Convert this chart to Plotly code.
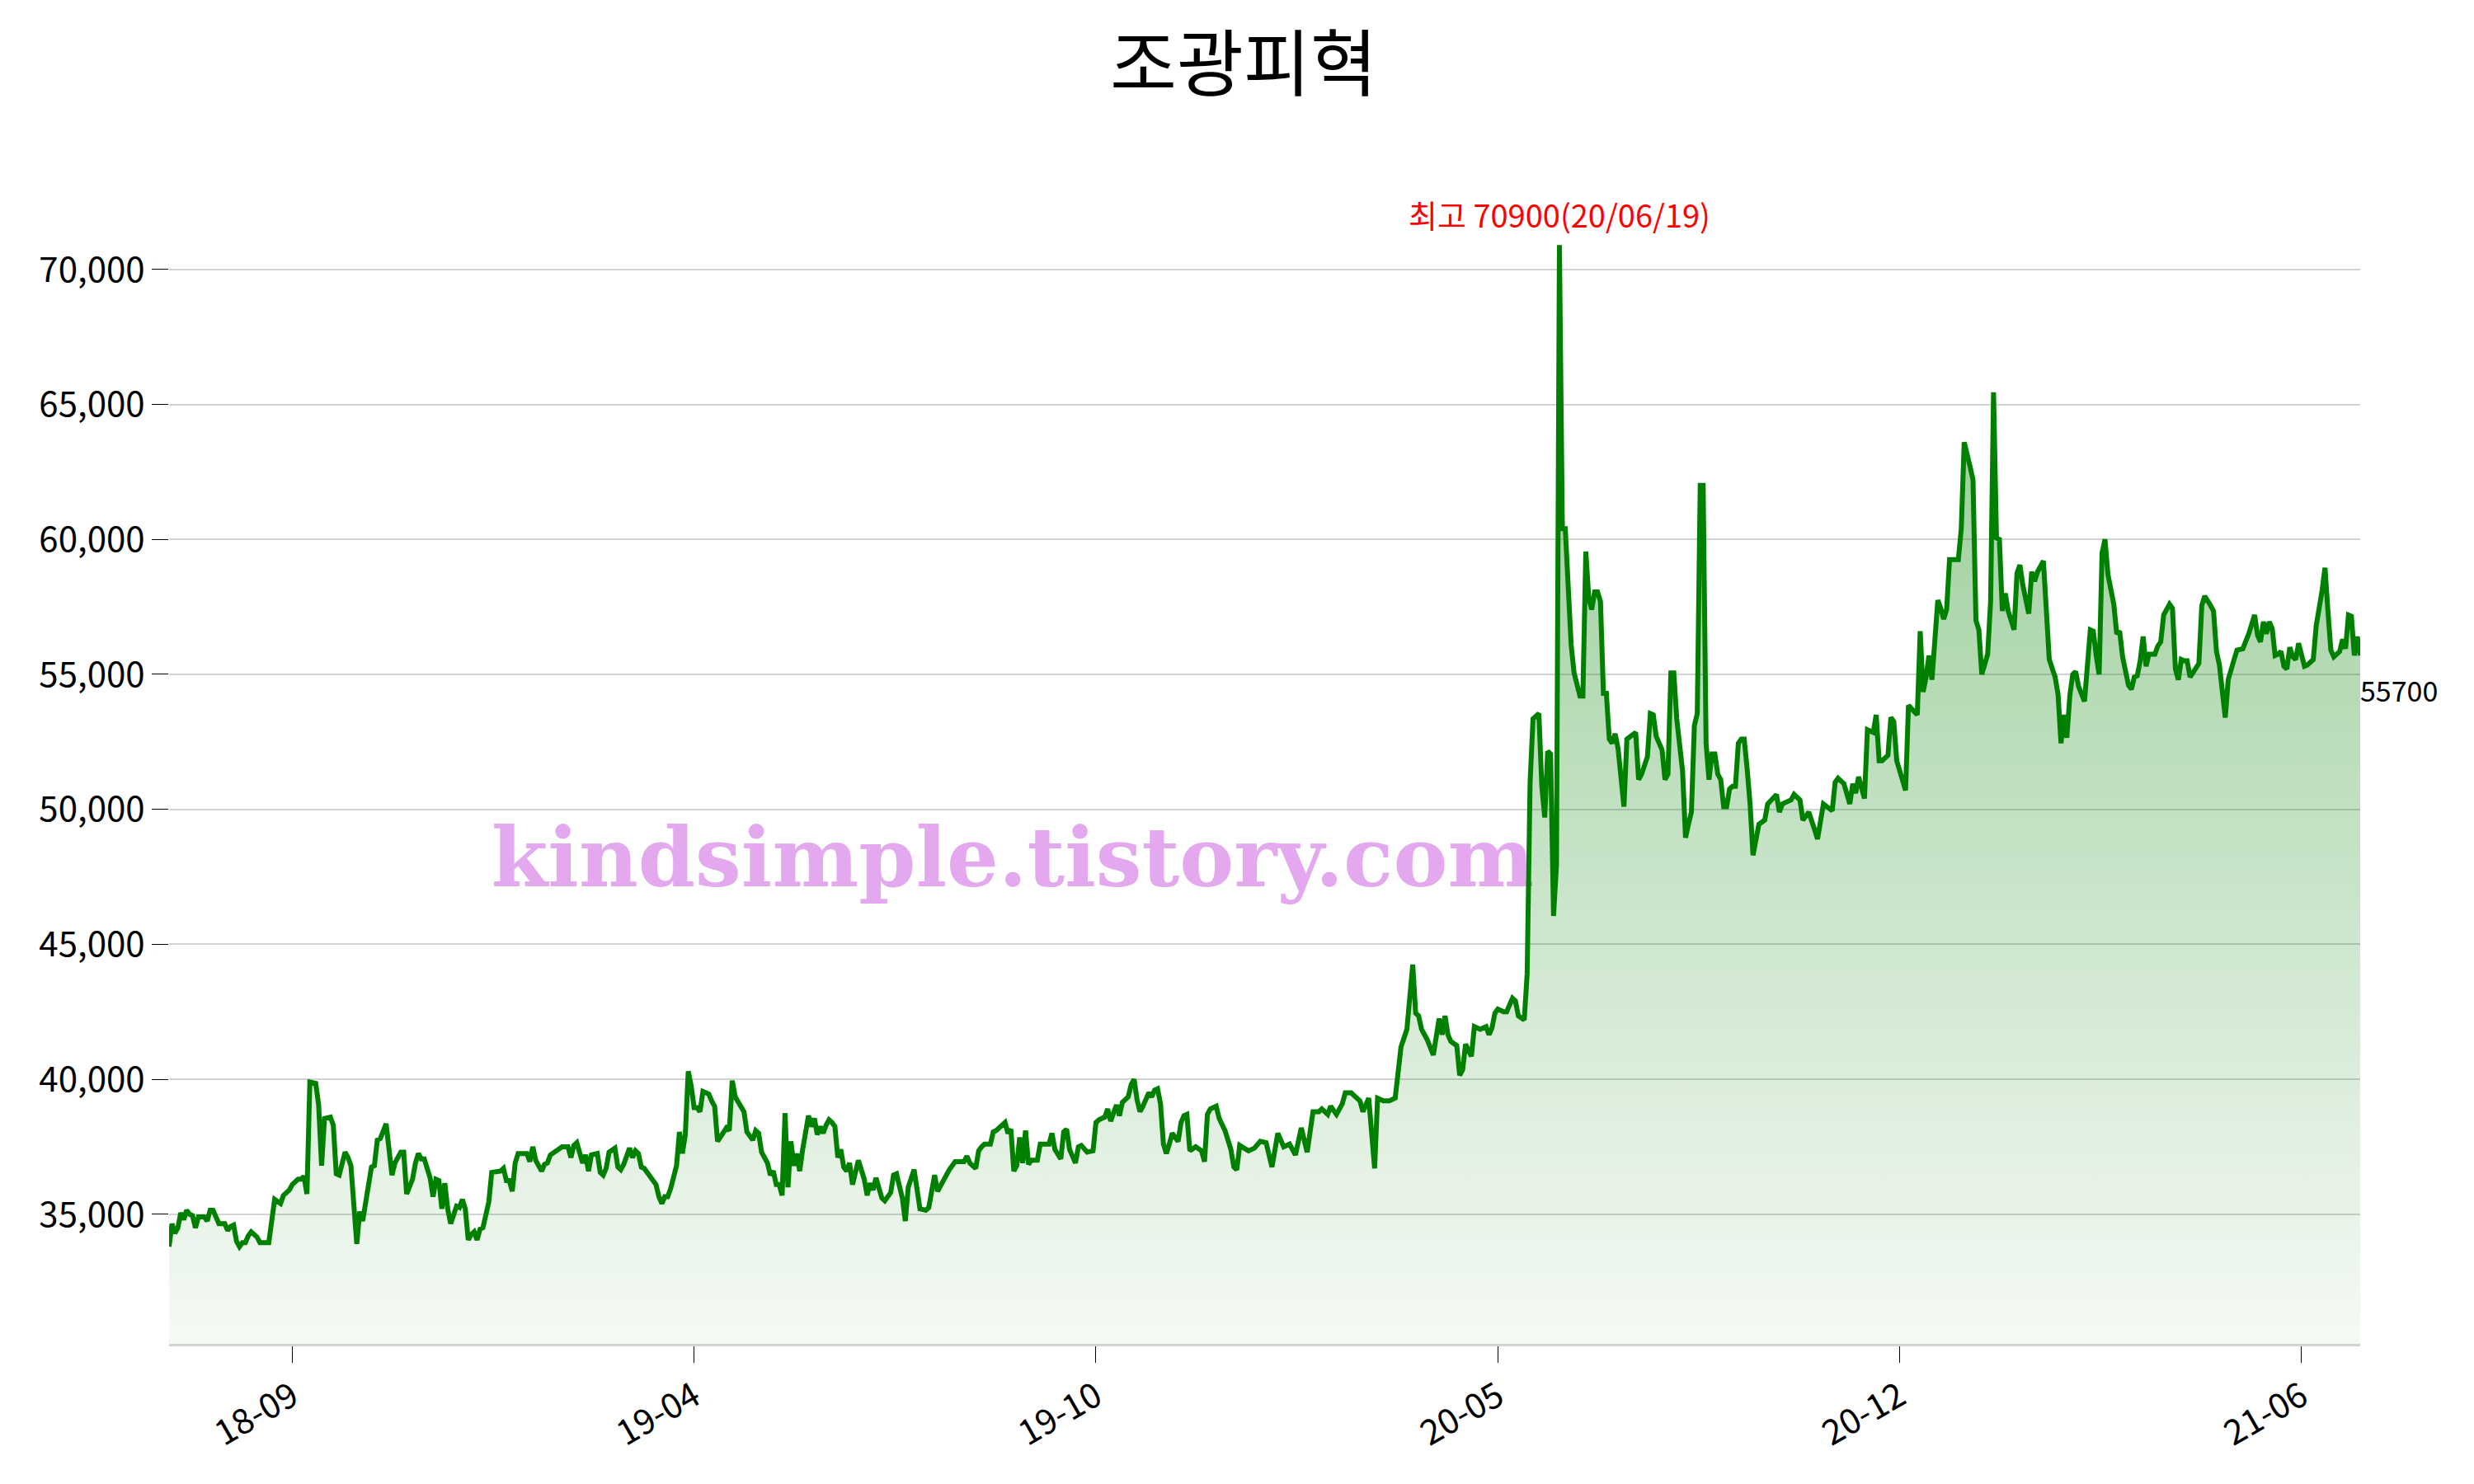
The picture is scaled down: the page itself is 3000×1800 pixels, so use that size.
import plotly.graph_objects as go

title_text = "조광피혁"
tick_days = [42, 179, 316, 453, 590, 727]
tick_labels = ["18-09", "19-04", "19-10", "20-05", "20-12", "21-06"]
y_ticks = [35000, 40000, 45000, 50000, 55000, 60000, 65000, 70000]
peak_date_label = "20/06/19"
watermark = "kindsimple.tistory.com"

# trading-day index (0 = first day shown) and closing price
days = [
    0, 1, 2, 3, 4, 5, 6, 7, 8, 9, 10, 12, 13, 14, 15, 17, 19, 20, 21, 22,
    23, 24, 25, 26, 27, 28, 30, 31, 34, 35, 36, 38, 39, 41, 42, 44, 45, 46, 47, 48,
    50, 51, 52, 53, 55, 56, 57, 58, 60, 61, 62, 64, 65, 66, 68, 69, 70, 71, 72, 74,
    76, 77, 79, 80, 81, 83, 84, 85, 86, 87, 89, 90, 91, 92, 93, 94, 95, 96, 98, 99,
    100, 101, 102, 103, 104, 105, 106, 107, 109, 110, 113, 114, 115, 116, 117, 118, 119, 122, 123, 124,
    125, 127, 128, 129, 130, 134, 136, 137, 138, 139, 141, 142, 143, 144, 146, 147, 148, 149, 150, 152,
    153, 154, 155, 156, 157, 158, 159, 160, 161, 162, 164, 166, 167, 168, 169, 170, 171, 173, 174, 175,
    176, 177, 178, 179, 180, 181, 182, 184, 185, 186, 187, 189, 190, 191, 192, 193, 195, 196, 197, 198,
    199, 200, 201, 202, 204, 205, 206, 207, 208, 209, 210, 211, 212, 213, 214, 215, 216, 218, 219, 220,
    221, 222, 223, 224, 225, 226, 227, 228, 229, 230, 231, 232, 233, 235, 237, 238, 239, 240, 241, 243,
    244, 246, 247, 248, 250, 251, 252, 254, 256, 258, 259, 261, 262, 264, 266, 268, 271, 272, 273, 275,
    276, 277, 278, 280, 281, 282, 284, 285, 286, 287, 288, 289, 290, 291, 292, 293, 294, 296, 297, 300,
    301, 302, 304, 305, 306, 307, 309, 310, 311, 313, 315, 316, 317, 319, 320, 321, 323, 324, 325, 327,
    328, 329, 330, 331, 332, 334, 335, 336, 337, 338, 339, 340, 341, 342, 344, 345, 346, 347, 348, 350,
    352, 353, 354, 355, 357, 358, 360, 362, 363, 364, 365, 367, 368, 370, 371, 372, 374, 375, 376, 378,
    380, 382, 384, 386, 388, 390, 392, 393, 395, 396, 398, 400, 401, 403, 405, 406, 407, 409, 411, 412,
    414, 416, 418, 419, 420, 422, 424, 425, 426, 427, 428, 429, 431, 432, 433, 434, 435, 436, 437, 439,
    440, 441, 442, 444, 445, 447, 449, 450, 451, 452, 453, 455, 456, 458, 459, 460, 462, 463, 464, 465,
    466, 467, 468, 469, 470, 471, 472, 473, 474, 475, 476, 477, 478, 479, 481, 482, 483, 484, 485, 486,
    487, 488, 489, 490, 491, 492, 493, 494, 496, 497, 498, 500, 501, 502, 504, 505, 506, 507, 509, 510,
    511, 512, 513, 514, 516, 517, 518, 519, 520, 521, 522, 523, 524, 525, 526, 527, 528, 529, 530, 531,
    532, 533, 534, 535, 536, 537, 538, 539, 540, 542, 544, 545, 548, 549, 550, 553, 554, 556, 557, 559,
    561, 562, 564, 565, 567, 568, 569, 571, 573, 574, 575, 576, 578, 579, 581, 582, 583, 584, 586, 587,
    588, 589, 591, 592, 593, 595, 596, 597, 598, 599, 600, 601, 603, 604, 605, 606, 607, 610, 611, 612,
    613, 614, 615, 616, 617, 618, 620, 621, 622, 623, 624, 625, 626, 627, 629, 630, 631, 632, 634, 635,
    636, 637, 639, 640, 641, 643, 644, 645, 646, 647, 648, 649, 650, 651, 653, 655, 656, 657, 658, 659,
    660, 661, 663, 664, 665, 666, 668, 669, 670, 671, 672, 673, 674, 675, 677, 678, 679, 680, 682, 683,
    684, 685, 686, 687, 688, 689, 692, 693, 694, 696, 697, 698, 699, 701, 702, 704, 705, 707, 709, 711,
    712, 713, 714, 715, 716, 717, 718, 719, 720, 721, 722, 723, 724, 725, 726, 728, 729, 731, 732, 734,
    735, 736, 737, 738, 740, 741, 742, 743, 744, 745, 746, 747,
]
prices = [
    33800, 34650, 34300, 34500, 35050, 34800, 35150, 35000, 34950, 34500, 34900, 34900, 34750, 35150, 35150, 34650, 34650, 34400, 34550, 34600,
    34000, 33800, 33950, 33950, 34200, 34350, 34150, 33950, 33950, 34650, 35550, 35400, 35700, 35900, 36100, 36300, 36300, 36400, 35750, 39900,
    39850, 39050, 36800, 38550, 38600, 38300, 36500, 36450, 37300, 37100, 36800, 33900, 35100, 34750, 36000, 36750, 36800, 37750, 37800, 38350,
    36450, 36900, 37300, 37300, 35750, 36300, 36900, 37250, 37050, 37050, 36350, 35650, 36300, 36250, 35200, 36150, 35200, 34650, 35300, 35250,
    35550, 35200, 34050, 34250, 34350, 34050, 34450, 34500, 35450, 36550, 36600, 36700, 36250, 36250, 35850, 36900, 37250, 37250, 36950, 37500,
    37000, 36600, 36850, 36900, 37200, 37500, 37500, 37100, 37550, 37650, 36900, 37200, 36600, 37200, 37250, 36550, 36450, 36700, 37300, 37450,
    36750, 36650, 36850, 37100, 37450, 37100, 37350, 37250, 36750, 36700, 36400, 36100, 35650, 35400, 35650, 35650, 35950, 36800, 38050, 37250,
    37950, 40300, 39750, 38950, 38950, 38800, 39550, 39450, 39200, 39000, 37700, 38050, 38200, 38100, 39950, 39350, 38950, 38800, 38050, 37900,
    37750, 38100, 38000, 37300, 36900, 36450, 36600, 36100, 36100, 35700, 38750, 36000, 37700, 36800, 37250, 36600, 37400, 38650, 38250, 38550,
    37950, 38250, 38000, 38300, 38500, 38400, 38250, 37100, 37400, 36750, 36600, 36900, 36100, 37000, 36300, 35700, 36150, 35900, 36350, 35600,
    35500, 35800, 36450, 36500, 35600, 34750, 36000, 36650, 35200, 35150, 35250, 36450, 35850, 36250, 36650, 36950, 36950, 37150, 36900, 36700,
    37350, 37500, 37600, 37600, 38050, 38100, 38300, 38400, 38000, 38150, 36600, 36800, 37850, 36900, 38100, 36850, 37000, 37000, 37600, 37600,
    38000, 37400, 37050, 38050, 38150, 37400, 36900, 37500, 37550, 37300, 37350, 38400, 38500, 38600, 38900, 38450, 39050, 38650, 39150, 39350,
    39800, 40000, 39250, 38800, 39000, 39500, 39350, 39600, 39650, 39100, 37600, 37250, 37600, 38000, 37700, 38400, 38650, 38700, 37350, 37500,
    37350, 36950, 38700, 38900, 39000, 38550, 38100, 37400, 36750, 36650, 37550, 37450, 37350, 37450, 37600, 37700, 37650, 37150, 36750, 38000,
    37500, 37600, 37200, 38200, 37300, 38800, 38800, 38900, 38700, 39000, 38700, 39100, 39500, 39500, 39300, 39200, 38800, 39300, 36700, 39300,
    39200, 39200, 39300, 40150, 41200, 41850, 44250, 42450, 42350, 41850, 41650, 41450, 40900, 41650, 42250, 41650, 42350, 41650, 41400, 41250,
    40150, 40350, 41300, 40850, 41950, 41850, 41950, 41650, 41900, 42450, 42600, 42500, 42500, 43000, 42900, 42350, 42200, 43900, 51000, 53350,
    53450, 53550, 50850, 49700, 52150, 52050, 46050, 47950, 70900, 60400, 60400, 58050, 56100, 55050, 54200, 54200, 59550, 57850, 57400, 58050,
    58050, 57700, 54300, 54300, 52600, 52450, 52800, 52250, 50100, 52600, 52700, 52850, 51100, 51300, 51950, 53550, 53500, 52700, 52200, 51100,
    51300, 55050, 55050, 53350, 51400, 48950, 49450, 49900, 53100, 53550, 62000, 62000, 52450, 51100, 52050, 52050, 51300, 51100, 50100, 50100,
    50750, 50850, 50850, 52450, 52600, 52600, 51500, 50200, 48300, 49450, 49600, 50200, 50550, 49900, 50200, 50350, 50550, 50350, 49600, 49900,
    49250, 48900, 50200, 50100, 49950, 51000, 51150, 50950, 50200, 50950, 50600, 51200, 50400, 52950, 52850, 53500, 51800, 51800, 52000, 53400,
    53250, 51800, 50950, 50700, 53850, 53650, 53500, 56600, 54350, 54900, 55700, 54800, 57750, 57450, 57050, 57400, 59250, 59250, 60400, 63600,
    63050, 62700, 62200, 57000, 56650, 55000, 55750, 57700, 65450, 60050, 60000, 57350, 58000, 57350, 56650, 58750, 59050, 58300, 57250, 58800,
    58450, 58800, 59200, 57200, 55550, 54900, 54250, 52450, 53500, 52650, 54200, 55000, 55100, 54550, 54000, 56650, 56600, 55700, 55000, 59500,
    60000, 58700, 57600, 56500, 56600, 55650, 54600, 54450, 54900, 54950, 55500, 56400, 55300, 55750, 55750, 56050, 56200, 57200, 57600, 57450,
    55200, 54800, 55550, 55500, 55500, 54900, 55400, 57550, 57900, 57550, 57350, 55850, 55350, 53400, 54800, 55550, 55900, 55950, 56500, 57200,
    56450, 56200, 56950, 56500, 56950, 56700, 55700, 55750, 55850, 55300, 55200, 56000, 55650, 55550, 56150, 55300, 55350, 55550, 56800, 58100,
    58950, 57350, 55900, 55650, 55850, 56300, 55950, 57200, 57150, 55700, 56400, 55700,
]

y_low, y_high = 30200, 75400
peak_i = max(range(len(prices)), key=lambda i: prices[i])
last_day, last_price = days[-1], prices[-1]

font_main = "Noto Sans CJK KR, Noto Sans, sans-serif"

fig = go.Figure()
fig.add_trace(go.Scatter(
    x=days, y=prices, mode="lines",
    line=dict(color="green", width=6),
    fill="tozeroy",
    fillgradient=dict(
        type="vertical",
        colorscale=[[0, "rgba(0,128,0,0.04)"], [1, "rgba(0,128,0,0.45)"]],
        start=y_low, stop=prices[peak_i],
    ),
    hoverinfo="skip", showlegend=False,
))

fig.add_annotation(
    x=days[peak_i], y=prices[peak_i],
    text=f"최고 {prices[peak_i]}({peak_date_label})",
    showarrow=False, yanchor="bottom", yshift=8,
    font=dict(family=font_main, size=38, color="red"),
)
fig.add_annotation(
    x=last_day, y=last_price, text=str(last_price),
    showarrow=False, xanchor="left", yanchor="middle", yshift=-41, xshift=-2,
    font=dict(family=font_main, size=34, color="black"),
)

fig.add_shape(
    type="rect", xref="paper", yref="paper",
    x0=0.15, x1=0.62, y0=0.348, y1=0.458,
    line=dict(width=0), fillcolor="rgba(0,0,0,0)", layer="below",
    label=dict(text=watermark, textposition="middle center",
               font=dict(family="DejaVu Serif", size=99, color="#E4A8EE", weight="bold")),
)

fig.update_layout(
    width=3000, height=1800,
    margin=dict(l=197, r=146, t=142, b=178, autoexpand=False),
    paper_bgcolor="white", plot_bgcolor="white",
    title=dict(text=title_text, x=0.5, xref="container", y=1 - 70 / 1800, yanchor="middle",
               font=dict(family=font_main, size=88, color="black")),
    font=dict(family=font_main, color="black"),
)
fig.update_xaxes(
    range=[0, last_day], showgrid=False, zeroline=False,
    showline=True, linecolor="#d3d3d3", linewidth=3,
    ticks="outside", ticklen=20, tickcolor="black", tickwidth=1,
    tickvals=tick_days, ticktext=tick_labels, tickangle=-30,
    tickfont=dict(size=42, family=font_main, color="black"),
)
fig.update_yaxes(
    range=[y_low, y_high], tickvals=y_ticks, tickformat=",",
    showgrid=True, gridcolor="#d3d3d3", gridwidth=2,
    zeroline=False, showline=False,
    ticks="outside", ticklen=20, tickcolor="black", tickwidth=1,
    tickfont=dict(size=42, family=font_main, color="black"),
)

fig.write_html("out.html")
